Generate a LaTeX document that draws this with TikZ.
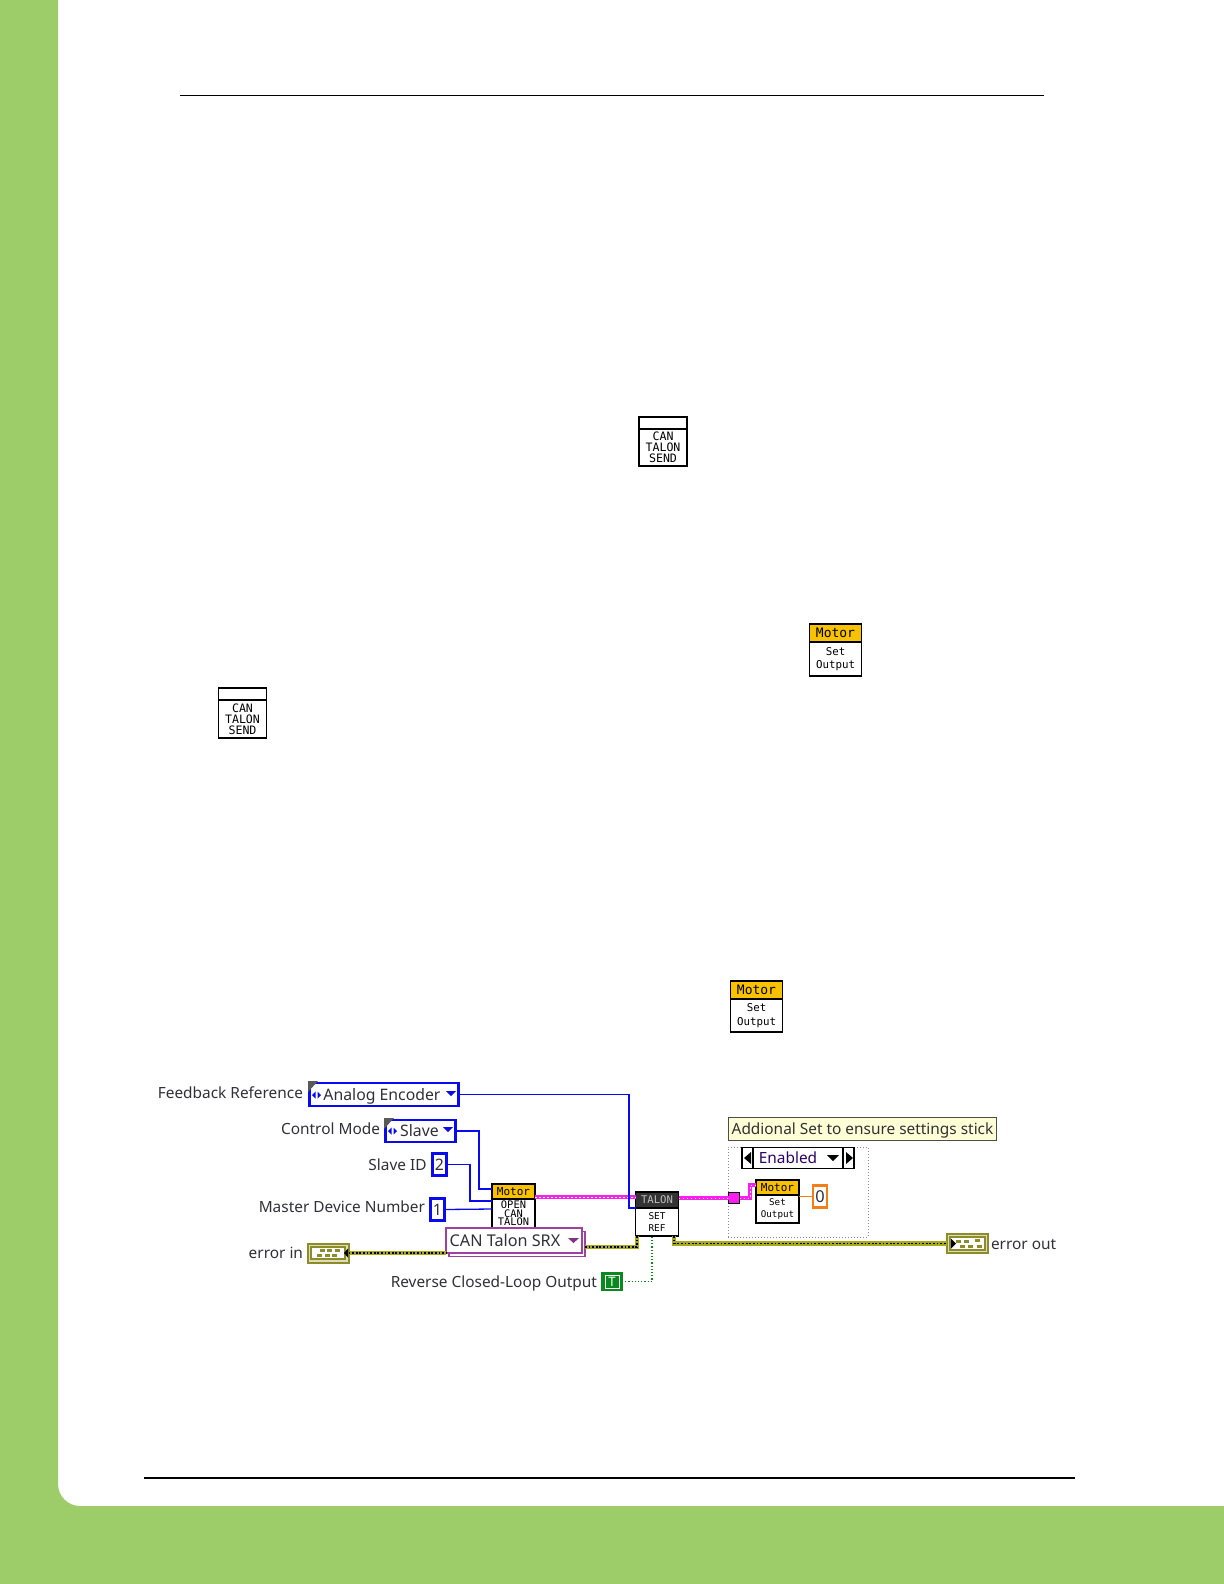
\documentclass[tikz,border=0pt]{standalone}
\usepackage{fontspec}
\setmainfont{Noto Sans}
\newfontfamily\iconfont{DejaVu Sans Mono}
\usetikzlibrary{positioning}

\definecolor{pagegreen}{HTML}{9DCD69}
\definecolor{enumblue}{HTML}{0A0AF0}
\definecolor{errolive}{HTML}{8C8C28}
\definecolor{refpink}{HTML}{FF1CF0}
\definecolor{motoryellow}{HTML}{F8C200}
\definecolor{ringpurple}{HTML}{A040A0}
\definecolor{boolgreen}{HTML}{0A8A1E}
\definecolor{dblorange}{HTML}{F57E14}
\definecolor{tipyellow}{HTML}{FFFFD6}
\definecolor{labelgray}{HTML}{303038}

\tikzset{
  vitext/.style={font=\fontsize{7.7}{9}\selectfont, text=labelgray, inner sep=0pt, outer sep=0pt},
  vilabel/.style={vitext, anchor=east},
  boxtext/.style={vitext, text height=5.5pt, text depth=0pt},
  enumbox/.style={boxtext, font=\fontsize{7.9}{9}\selectfont, draw=enumblue, line width=1.3pt, fill=white, minimum height=11.5pt},
  iconhead/.style={draw=black, line width=.6pt, fill=motoryellow, text=black, inner sep=0pt, outer sep=0pt, align=center},
  iconbody/.style={draw=black, line width=.6pt, fill=white, text=black, inner sep=0pt, outer sep=0pt, align=center},
  enumwire/.style={draw=enumblue, line width=.65pt},
  refwire/.style={draw=refpink, line width=2.4pt, postaction={draw=white, line width=.5pt, dash pattern=on .9pt off 1.1pt}},
  errwire/.style={draw=errolive!75!yellow, line width=2.3pt, postaction={draw=black, line width=.9pt, dash pattern=on .9pt off .9pt}},
  cluster/.style={draw=errolive, line width=1pt, fill=errolive!30!white, minimum width=20.5pt, minimum height=9.5pt, inner sep=0pt, outer sep=0pt},
  ringbox/.style={boxtext, font=\fontsize{8.1}{9}\selectfont, draw=ringpurple, line width=.55pt, fill=white}
}

\begin{document}
\begin{tikzpicture}[x=.5pt, y=-.5pt]

  \useasboundingbox (0,0) rectangle (1224,1584);

  % page
  \fill[pagegreen] (0,0) -- (58,0) [rounded corners=11pt] -- (58,1506) [sharp corners] -- (1224,1506) -- (1224,1584) -- (0,1584) -- cycle;
  \draw[line width=.5pt] (180,95.5) -- (1044,95.5);
  \draw[line width=1pt] (144,1478) -- (1075,1478);

  % icons in the text
  \node[iconhead, minimum width=24pt, minimum height=6pt, fill=white] (sendahead) at (663,423) {};
  \node[iconbody, minimum width=24pt, minimum height=18.5pt, below=0pt of sendahead, font=\iconfont\fontsize{5.8}{5.5}\selectfont] (sendabody) {CAN\\TALON\\SEND};

  \node[iconhead, minimum width=24pt, minimum height=6pt, fill=white] (sendbhead) at (242.5,694) {};
  \node[iconbody, minimum width=24pt, minimum height=19pt, below=0pt of sendbhead, font=\iconfont\fontsize{5.8}{5.5}\selectfont] (sendbbody) {CAN\\TALON\\SEND};

  \node[iconhead, minimum width=26pt, minimum height=9pt, font=\iconfont\fontsize{6.5}{7}\selectfont] (motorahead) at (835.5,633) {Motor};
  \node[iconbody, minimum width=26pt, minimum height=17pt, below=0pt of motorahead, font=\iconfont\fontsize{5.4}{6.7}\selectfont] (motorabody) {Set\\Output};

  \node[iconhead, minimum width=26pt, minimum height=9pt, font=\iconfont\fontsize{6.5}{7}\selectfont] (motorbhead) at (756.5,990) {Motor};
  \node[iconbody, minimum width=26pt, minimum height=16.5pt, below=0pt of motorbhead, font=\iconfont\fontsize{5.4}{6.7}\selectfont] (motorbbody) {Set\\Output};

  % controls
  \node[enumbox, minimum width=74.5pt] (feedback) at (384,1094.5) {\hspace*{2pt}Analog Encoder\hspace*{4pt}};
  \node[enumbox, minimum width=35pt, minimum height=11pt] (ctrlmode) at (420.5,1131) {\hspace*{5pt}Slave\hspace*{6pt}};
  \node[enumbox, minimum width=7pt, minimum height=11pt] (slaveid) at (439.5,1164.5) {2};
  \node[enumbox, minimum width=7pt, minimum height=11pt] (masternum) at (437.5,1209.5) {1};

  \node[vilabel] (feedbacktxt) at (303,1093) {Feedback Reference};
  \node[vilabel] (ctrlmodetxt) at (380,1129) {Control Mode};
  \node[vilabel] (slaveidtxt) at (426.5,1165) {Slave ID};
  \node[vilabel] (masternumtxt) at (425,1207) {Master Device Number};
  \node[vilabel] (errintxt) at (303,1253) {error in};
  \node[vilabel] (reversetxt) at (597,1283) {Reverse Closed-Loop Output};
  \node[vitext, anchor=west] (errouttxt) at (991,1244) {error out};

  % corner marks and arrows of the enums
  \foreach \px/\py in {308/1081, 384/1118}{
    \fill[black!65] (\px,\py) -- (\px+10,\py) -- (\px,\py+11) -- cycle;
  }
  \foreach \px/\py in {312/1095, 388/1131}{
    \fill[enumblue] (\px,\py) -- (\px+3.5,\py-3.5) -- (\px+3.5,\py+3.5) -- cycle;
    \fill[enumblue] (\px+9,\py) -- (\px+5.5,\py-3.5) -- (\px+5.5,\py+3.5) -- cycle;
  }
  \foreach \px/\py in {451/1093, 448/1129}{
    \fill[enumblue] (\px-5,\py-2) -- (\px+5,\py-2) -- (\px,\py+3) -- cycle;
  }

  % icons on the diagram
  \node[iconhead, minimum width=21.5pt, minimum height=7.5pt, font=\iconfont\fontsize{5.5}{6}\selectfont] (openhead) at (513.5,1191.5) {Motor};
  \node[iconbody, minimum width=21.5pt, minimum height=14.5pt, below=0pt of openhead, font=\iconfont\fontsize{5.2}{4.2}\selectfont] (openbody) {OPEN\\CAN\\TALON};

  \node[iconhead, minimum width=21.5pt, minimum height=8pt, fill=black!80, text=black!25, font=\iconfont\fontsize{5.3}{6}\selectfont] (talonhead) at (657,1200) {TALON};
  \node[iconbody, minimum width=21.5pt, minimum height=14pt, below=0pt of talonhead, font=\iconfont\fontsize{4.7}{5.7}\selectfont] (talonbody) {SET\\REF};

  \node[draw=black!45, densely dotted, line width=.5pt, minimum width=70pt, minimum height=45pt, inner sep=0pt, outer sep=0pt] (caseframe) at (798,1192) {};
  \node[iconhead, minimum width=21.5pt, minimum height=7.5pt, font=\iconfont\fontsize{5.5}{6}\selectfont] (sethead) at (777.5,1187.5) {Motor};
  \node[iconbody, minimum width=21.5pt, minimum height=14pt, below=0pt of sethead, font=\iconfont\fontsize{4.6}{5.7}\selectfont] (setbody) {Set\\Output};
  \node[boxtext, draw=dblorange, line width=1.2pt, fill=white, minimum width=7pt, minimum height=11pt, font=\fontsize{8.2}{9}\selectfont] (zero) at (820,1196.5) {0};

  \node[draw=black, line width=.7pt, fill=refpink, minimum size=5.5pt, inner sep=0pt, outer sep=0pt] (tunnel) at (734,1198) {};

  \node[boxtext, draw=black, line width=.6pt, fill=white, minimum width=45pt, minimum height=10.5pt, text=black!70!red!60!blue] (enabled) at (798,1158) {\hspace*{2pt}Enabled\hspace*{12pt}};
  \node[draw=black, line width=.6pt, fill=white, minimum width=5.5pt, minimum height=10.5pt, inner sep=0pt, outer sep=0pt, left=0pt of enabled] (enabledprev) {};
  \node[draw=black, line width=.6pt, fill=white, minimum width=5.5pt, minimum height=10.5pt, inner sep=0pt, outer sep=0pt, right=0pt of enabled] (enablednext) {};
  \fill (744,1158) -- (751,1152) -- (751,1164) -- cycle;
  \fill (853,1158) -- (846,1152) -- (846,1164) -- cycle;
  \fill (827,1155) -- (839,1155) -- (833,1161) -- cycle;

  \node[boxtext, draw=black!70, line width=.5pt, fill=tipyellow, minimum width=134pt, minimum height=11.5pt] (tooltip) at (862.5,1128.5) {Addional Set to ensure settings stick};

  % ring, with its copy behind
  \node[draw=ringpurple, line width=.55pt, fill=white, minimum width=68pt, minimum height=12.5pt, inner sep=0pt, outer sep=0pt] (ringshadow) at (517,1244) {};
  \node[ringbox, minimum width=68pt, minimum height=12.5pt] (ringtype) at (514,1240.5) {\hspace*{.5pt}CAN Talon SRX\hspace*{9.5pt}};
  \fill[ringpurple!80!black] (568,1238) -- (579,1238) -- (573.5,1243) -- cycle;

  % terminals
  \node[cluster] (errin) at (328,1253) {};
  \node[cluster] (errout) at (967.5,1243.5) {};
  \draw[errolive, line width=.7pt, fill=white] (311,1247) rectangle (345,1259);
  \draw[errolive, line width=.7pt, fill=white] (950,1237) rectangle (985,1250);
  \foreach \px/\py in {320/1249, 327/1249, 335/1249, 317/1254, 325/1254, 332/1254, 956/1240, 964/1240, 975/1239, 960/1245, 968/1245, 977/1245}{
    \fill[errolive] (\px,\py) rectangle (\px+5,\py+3);
  }
  \fill (344,1253) -- (348,1248.5) -- (348,1257.5) -- cycle;
  \fill (956,1243.5) -- (951,1238.5) -- (951,1248.5) -- cycle;

  \node[draw=boolgreen, line width=.8pt, fill=boolgreen, minimum width=10pt, minimum height=9pt, inner sep=0pt, outer sep=0pt, font=\fontsize{6.5}{6.5}\selectfont\bfseries, text=white] (revbool) at (612,1281.5) {T};
  \draw[white, line width=.35pt] (605,1275) rectangle (619,1288);

  % free ends on the icons
  \coordinate (openmode) at (openhead.west |- 0,1189);
  \coordinate (openid) at (openhead.west |- 0,1201);
  \coordinate (openmaster) at (openhead.west |- 0,1209);
  \coordinate (openref) at (openhead.east |- 0,1197);
  \coordinate (talonin) at (talonhead.west |- 0,1197);
  \coordinate (talonout) at (talonhead.east |- 0,1198);
  \coordinate (setref) at (sethead.west |- 0,1185);
  \coordinate (setzero) at (setbody.east |- 0,1196.5);
  \coordinate (talonerrin) at (637,1236);
  \coordinate (talonerrout) at (674,1236);
  \coordinate (talonrev) at (652,1236);
  \coordinate (ringout) at (ringshadow.east |- 0,1247);
  \coordinate (ringin) at (ringtype.west |- errin.east);

  % wires
  \draw[refwire] (openref) -- (talonin);
  \draw[refwire] (talonout) -- (tunnel.west);
  \draw[refwire] (tunnel.east) -| (750,1191) |- (setref);
  \draw[enumwire] (feedback.east) -| (629,1150) |- (talonhead.south west);
  \draw[enumwire] (ctrlmode.east) -| (479,1160) |- (openmode);
  \draw[enumwire] (slaveid.east) -| (470,1180) |- (openid);
  \draw[enumwire] (masternum.east) -- (openmaster);
  \draw[errwire] (errin.east) -- (ringin);
  \draw[errwire] (ringout) -| (talonerrin);
  \draw[errwire] (talonerrout) |- (errout.west);
  \draw[boolgreen, densely dotted, line width=.6pt] (revbool.east) -| (talonrev);
  \draw[dblorange, line width=.6pt] (setzero) -- (zero.west);

\end{tikzpicture}
\end{document}
